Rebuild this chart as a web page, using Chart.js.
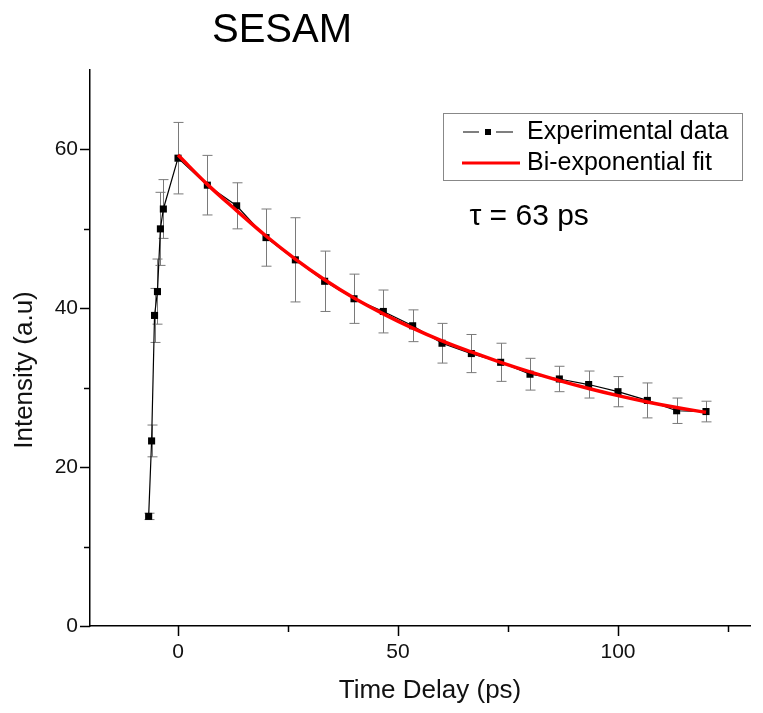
<!DOCTYPE html>
<html>
<head>
<meta charset="utf-8">
<script src="https://cdn.jsdelivr.net/npm/chart.js@4/dist/chart.umd.min.js"></script>
<style>
  html, body { margin: 0; padding: 0; background: #fff; }
  #wrap { width: 763px; height: 713px; position: relative; }
</style>
</head>
<body>
<div id="wrap"><canvas id="c" width="763" height="713"></canvas></div>
<script>
// ---- data ----
const chartTitle = 'SESAM';
const xTitle = 'Time Delay (ps)';
const yTitle = 'Intensity (a.u)';
const seriesNames = ['Experimental data', 'Bi-exponential fit'];
const annotationText = 'τ = 63 ps';

const expDelay = [-6.67, -6, -5.33, -4.67, -4, -3.33, 0, 6.67, 13.33, 20, 26.67, 33.33, 40, 46.67, 53.33, 60, 66.67, 73.33, 80, 86.67, 93.33, 100, 106.67, 113.33, 120];
const expIntensity = [13.8, 23.3, 39.1, 42.1, 50.0, 52.5, 58.9, 55.5, 52.9, 48.9, 46.1, 43.4, 41.2, 39.6, 37.8, 35.6, 34.3, 33.2, 31.7, 31.1, 30.4, 29.5, 28.4, 27.1, 27.0];
const expError = [0.4, 2.0, 3.4, 4.1, 4.6, 3.7, 4.5, 3.75, 2.9, 3.6, 5.3, 3.8, 3.1, 2.7, 2.0, 2.5, 2.4, 2.4, 2.0, 1.6, 1.7, 1.9, 2.2, 1.6, 1.3];

const fitDelay = [0, 6.67, 13.33, 20, 26.67, 33.33, 40, 46.67, 53.33, 60, 66.67, 73.33, 80, 86.67, 93.33, 100, 106.67, 113.33, 120];
const fitIntensity = [59.3, 55.6, 52.3, 49.1, 46.2, 43.6, 41.3, 39.3, 37.5, 35.9, 34.5, 33.2, 32.0, 30.9, 29.9, 29.0, 28.2, 27.5, 26.9];

const xTicks = [0, 25, 50, 75, 100, 125];
const xLabelTicks = [0, 50, 100];
const yTicks = [0, 10, 20, 30, 40, 50, 60];
const yLabelTicks = [0, 20, 40, 60];
const xMin = -20, xMax = 130;
const yMin = 0, yMax = 70;
const tauPos = { x: 79.8, y: 51.5 };

const FONT = '"Liberation Sans", Arial, Helvetica, sans-serif';

const errorBarPlugin = {
  id: 'errorBars',
  beforeDatasetsDraw(chart) {
    const {ctx, scales: {x, y}} = chart;
    ctx.save();
    ctx.strokeStyle = '#7a7a7a';
    ctx.lineWidth = 1;
    const cap = 5;
    expDelay.forEach((d, i) => {
      const px = Math.round(x.getPixelForValue(d)) + 0.5;
      const top = y.getPixelForValue(expIntensity[i] + expError[i]);
      const bot = y.getPixelForValue(expIntensity[i] - expError[i]);
      ctx.beginPath();
      ctx.moveTo(px, top); ctx.lineTo(px, bot);
      ctx.moveTo(px - cap, top); ctx.lineTo(px + cap, top);
      ctx.moveTo(px - cap, bot); ctx.lineTo(px + cap, bot);
      ctx.stroke();
    });
    ctx.restore();
  }
};

const decorPlugin = {
  id: 'decor',
  afterDraw(chart) {
    const {ctx, chartArea: ca, scales: {x, y}} = chart;
    ctx.save();
    // tick marks (major longer than minor)
    ctx.strokeStyle = '#000';
    ctx.lineWidth = 1.5;
    xTicks.forEach(v => {
      const px = Math.round(x.getPixelForValue(v)) + 0.5;
      const len = xLabelTicks.includes(v) ? 10 : 6;
      ctx.beginPath(); ctx.moveTo(px, ca.bottom); ctx.lineTo(px, ca.bottom + len); ctx.stroke();
    });
    yTicks.forEach(v => {
      const py = Math.round(y.getPixelForValue(v)) + 0.5;
      const len = yLabelTicks.includes(v) ? 10 : 6;
      ctx.beginPath(); ctx.moveTo(ca.left, py); ctx.lineTo(ca.left - len, py); ctx.stroke();
    });
    ctx.fillStyle = '#000';
    ctx.textAlign = 'center';
    ctx.textBaseline = 'middle';
    // title
    ctx.font = '40px ' + FONT;
    ctx.fillText(chartTitle, 282, 31);
    // axis titles
    ctx.fillStyle = '#111';
    ctx.font = '26px ' + FONT;
    ctx.fillText(xTitle, 430, 691);
    ctx.save();
    ctx.translate(25, 370);
    ctx.rotate(-Math.PI / 2);
    ctx.fillText(yTitle, 0, 0);
    ctx.restore();
    // tau annotation
    ctx.fillStyle = '#000';
    ctx.font = '30px ' + FONT;
    ctx.fillText(annotationText, x.getPixelForValue(tauPos.x), y.getPixelForValue(tauPos.y));
    // legend
    const bx = ca.right - 307, by = ca.top + 43, bw = 299, bh = 67;
    ctx.strokeStyle = '#888';
    ctx.lineWidth = 1;
    ctx.strokeRect(bx + 0.5, by + 0.5, bw, bh);
    const r1 = by + 19, r2 = by + 50;
    ctx.strokeStyle = '#000';
    ctx.lineWidth = 1.2;
    ctx.beginPath();
    ctx.moveTo(bx + 20, r1); ctx.lineTo(bx + 36, r1);
    ctx.moveTo(bx + 53, r1); ctx.lineTo(bx + 70, r1);
    ctx.stroke();
    ctx.fillStyle = '#000';
    ctx.fillRect(bx + 42, r1 - 3, 6, 6);
    ctx.strokeStyle = '#ff0000';
    ctx.lineWidth = 3;
    ctx.beginPath(); ctx.moveTo(bx + 19, r2); ctx.lineTo(bx + 77, r2); ctx.stroke();
    ctx.fillStyle = '#000';
    ctx.font = '25px ' + FONT;
    ctx.textAlign = 'left';
    ctx.textBaseline = 'middle';
    ctx.fillText(seriesNames[0], bx + 84, r1);
    ctx.fillText(seriesNames[1], bx + 84, r2);
    ctx.restore();
  }
};

new Chart(document.getElementById('c'), {
  type: 'scatter',
  data: {
    datasets: [
      {
        label: seriesNames[1],
        data: fitDelay.map((d, i) => ({x: d, y: fitIntensity[i]})),
        showLine: true,
        borderColor: '#ff0000',
        borderWidth: 3.5,
        pointRadius: 0,
        tension: 0.4,
        order: 0
      },
      {
        label: seriesNames[0],
        data: expDelay.map((d, i) => ({x: d, y: expIntensity[i]})),
        showLine: true,
        borderColor: '#000',
        borderWidth: 1.2,
        backgroundColor: '#000',
        pointStyle: 'rect',
        pointRadius: 5,
        pointBorderWidth: 0,
        tension: 0,
        order: 1
      }
    ]
  },
  options: {
    responsive: false,
    animation: false,
    layout: { padding: { top: 70, right: 13, left: 0, bottom: 0 } },
    plugins: { legend: { display: false }, tooltip: { enabled: false } },
    scales: {
      x: {
        type: 'linear', min: xMin, max: xMax,
        grid: { display: false },
        border: { display: true, color: '#000', width: 1.5 },
        afterBuildTicks: s => { s.ticks = xTicks.map(v => ({ value: v })); },
        ticks: {
          autoSkip: false, maxRotation: 0,
          padding: 6, color: '#111',
          font: { family: FONT, size: 21 },
          callback: v => (xLabelTicks.includes(v) ? String(v) : '')
        },
        title: { display: false },
        afterFit: s => { s.height = 87; }
      },
      y: {
        type: 'linear', min: yMin, max: yMax,
        grid: { display: false },
        border: { display: true, color: '#000', width: 1.5 },
        afterBuildTicks: s => { s.ticks = yTicks.map(v => ({ value: v })); },
        ticks: {
          autoSkip: false,
          padding: 4, color: '#111',
          font: { family: FONT, size: 21 },
          callback: v => (yLabelTicks.includes(v) ? String(v) : '')
        },
        title: { display: false },
        afterFit: s => { s.width = 90; }
      }
    }
  },
  plugins: [errorBarPlugin, decorPlugin]
});
</script>
</body>
</html>
